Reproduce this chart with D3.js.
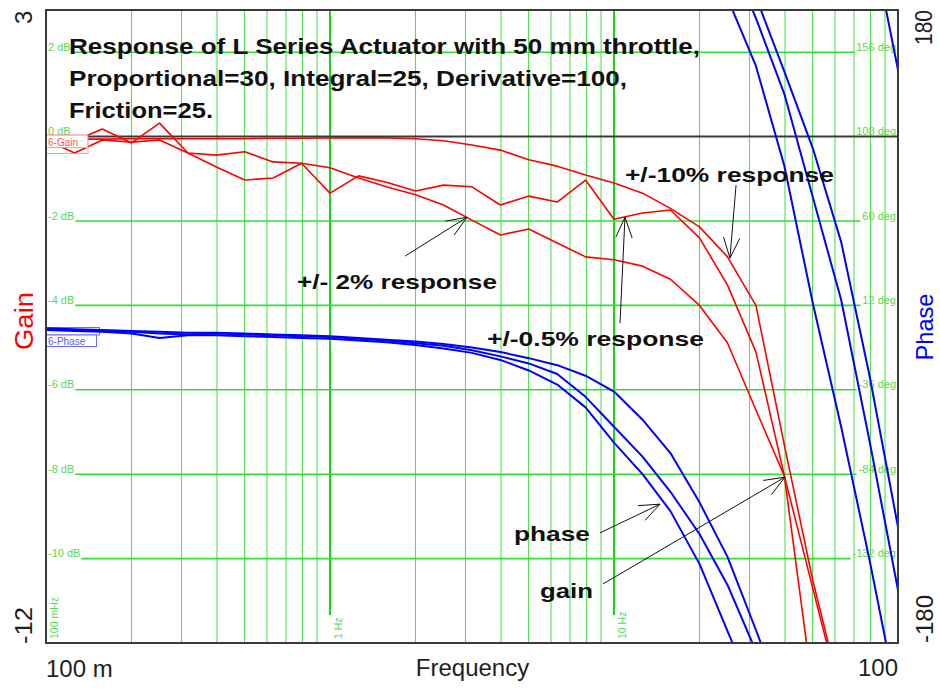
<!DOCTYPE html>
<html>
<head>
<meta charset="utf-8">
<script src="https://cdn.jsdelivr.net/npm/d3@7"></script>
<style>
  html, body { margin: 0; padding: 0; background: #fff; }
  svg { display: block; font-family: "Liberation Sans", Arial, Helvetica, sans-serif; }
</style>
</head>
<body>
<svg id="chart" width="940" height="690"></svg>
<script>
// Sample frequencies (Hz), ten per decade
const freqHz = [0.1, 0.126, 0.158, 0.2, 0.251, 0.316, 0.398, 0.501, 0.631, 0.794,
                1, 1.26, 1.58, 2, 2.51, 3.16, 3.98, 5.01, 6.31, 7.94,
                10, 12.6, 15.8, 20, 25.1, 31.6, 39.8, 50.1, 63.1, 79.4, 100];

// Gain (dB) for the three test runs
const gainTenPct = [-0.06, -0.06, -0.06, -0.05, -0.05, -0.05, -0.05, -0.05, -0.04, -0.04,
                    -0.03, -0.03, -0.03, -0.05, -0.10, -0.20, -0.32, -0.55, -0.70, -0.91,
                    -1.10, -1.34, -1.70, -2.14, -2.85, -4.00, -7.31, -10.51, -13.23];
const gainHalfPct = [-0.08, -0.10, 0.18, -0.15, 0.32, -0.39, -0.44, -0.36, -0.60, -0.63,
                     -1.34, -0.93, -1.08, -1.29, -1.15, -1.19, -1.62, -1.41, -1.55, -1.03,
                     -1.96, -1.81, -1.74, -2.40, -3.52, -5.10, -8.04, -13.11];
const gainTwoPct = [-0.08, -0.39, -0.08, -0.13, -0.08, -0.39, -0.72, -1.03, -0.98, -0.63,
                    -0.74, -0.98, -1.19, -1.38, -1.62, -1.98, -2.33, -2.19, -2.52, -2.85,
                    -2.92, -3.07, -3.38, -4.00, -4.89, -6.48, -8.04, -10.70, -13.35];

// Phase (degrees, unwrapped) for the same runs
const phaseTenPct = [-1, -1.5, -2, -2.5, -3, -3.5, -3.5, -4, -4.5, -5,
                     -5.5, -6.5, -7.5, -8.5, -10, -12, -14.5, -18, -22, -28,
                     -37, -53, -72, -100, -131, -172.6, -215, -258.5, -312, -388, -474];
const phaseHalfPct = [-1.5, -2, -2.5, -3, -4, -4.5, -4, -4.5, -5, -5.5,
                      -6, -7, -8, -9.5, -11, -13.5, -17, -21, -27, -40,
                      -57, -74, -94, -118, -147, -184.6, -227.8, -286.4, -344.9, -425.1, -509.9];
const phaseTwoPct = [-2, -2.5, -3, -4, -6.5, -5, -5, -5.5, -6, -6.5,
                     -7, -8, -9, -10.5, -12.5, -15, -19, -25, -33, -46,
                     -66, -84, -105, -135, -173.2, -211.8, -268.7, -346.6, -417.2, -492.8, -574.1];

// Grid / tick labels
const gainGrid = [2, 0, -2, -4, -6, -8, -10];
const gainGridLabels = ["2 dB", "0 dB", "-2 dB", "-4 dB", "-6 dB", "-8 dB", "-10 dB"];
const phaseGridLabels = ["156 deg", "108 deg", "60 deg", "12 deg", "-36 deg", "-84 deg", "-132 deg"];
const decadeHz = [0.1, 1, 10];
const decadeLabels = ["100 mHz", "1 Hz", "10 Hz"];
const gainEnds = ["3", "-12"];
const phaseEnds = ["180", "-180"];
const freqEnds = ["100 m", "100"];

const titleLines = ["Response of L Series Actuator with 50 mm throttle,",
                    "Proportional=30, Integral=25, Derivative=100,",
                    "Friction=25."];

// Callouts, anchored in (Hz, dB)
const callouts = [
  { text: "+/-10% response",  at: [10.93, -1.08], len: 209, from: [26.9, -1.15], to: [25.6, -2.88] },
  { text: "+/- 2% response",  at: [0.765, -3.61], len: 200, from: [1.84, -2.83], to: [3.04, -1.91] },
  { text: "+/-0.5% response", at: [3.57, -4.96],  len: 217, from: [10.5, -4.42], to: [10.93, -1.91] },
  { text: "phase",            at: [4.445, -9.58], len: 76,  from: [8.93, -9.39], to: [14.52, -8.71] },
  { text: "gain",             at: [5.49, -10.93], len: 53,  from: [9.15, -10.60], to: [40.0, -8.07] }
];

// ---------- layout ----------
const plot = { left: 46, right: 898, top: 10, bottom: 643 };
const x = d3.scaleLog().domain([0.1, 100]).range([plot.left, plot.right]);
const yGain = d3.scaleLinear().domain([-12, 3]).range([plot.bottom, plot.top]);
const yPhase = d3.scaleLinear().domain([-180, 180]).range([plot.bottom, plot.top]);

const GRID = "#2fe02f";
const GRID_MINOR = "#4fe34f";
const GRID_TEXT = "#55d855";
const INK = "#1e1e1e";

const svg = d3.select("#chart");
svg.append("rect").attr("width", 940).attr("height", 690).attr("fill", "#fff");

svg.append("defs").append("clipPath").attr("id", "plotClip")
  .append("rect")
  .attr("x", plot.left).attr("y", plot.top)
  .attr("width", plot.right - plot.left).attr("height", plot.bottom - plot.top);

const gridG = svg.append("g");

// vertical grid lines
const isDecade = f => Math.abs(Math.log10(f) - Math.round(Math.log10(f))) < 1e-9;
const vTicks = x.ticks().filter(f => f > 0.1 && f < 100);
gridG.selectAll("line.v").data(vTicks).join("line")
  .attr("x1", d => x(d)).attr("x2", d => x(d))
  .attr("y1", plot.top).attr("y2", plot.bottom)
  .attr("stroke", d => isDecade(d) ? "#14d814" : GRID_MINOR)
  .attr("stroke-width", d => isDecade(d) ? 2 : 1.1);

// decade labels along the bottom, rotated
decadeHz.forEach((f, i) => {
  const px = x(f);
  if (i > 0) {
    gridG.append("rect")
      .attr("x", px - 1.5).attr("y", 615).attr("width", 14.5).attr("height", plot.bottom - 615)
      .attr("fill", "#fff");
  }
  gridG.append("text")
    .attr("transform", `translate(${px + (i === 0 ? 12 : 11.5)},${plot.bottom - 4}) rotate(-90)`)
    .attr("font-size", 10.5).attr("fill", GRID_TEXT)
    .text(decadeLabels[i]);
});

// horizontal grid lines with their dB / deg labels
gainGrid.forEach((g, i) => {
  const py = yGain(g);
  const left = gridG.append("text")
    .attr("x", 48).attr("y", py - 1.5)
    .attr("font-size", 11).attr("fill", GRID_TEXT)
    .text(gainGridLabels[i]);
  const right = gridG.append("text")
    .attr("x", plot.right - 2).attr("y", py - 1.5)
    .attr("text-anchor", "end")
    .attr("font-size", 11).attr("fill", GRID_TEXT)
    .text(phaseGridLabels[i]);
  const lw = left.node().getComputedTextLength();
  const rw = right.node().getComputedTextLength();
  if (g === 0) {
    gridG.append("line")
      .attr("x1", plot.left).attr("x2", plot.right)
      .attr("y1", py).attr("y2", py)
      .attr("stroke", "#3a3a3a").attr("stroke-width", 2);
  } else {
    gridG.append("line")
      .attr("x1", 48 + lw + 1).attr("x2", plot.right - 2 - rw - 2)
      .attr("y1", py).attr("y2", py)
      .attr("stroke", GRID).attr("stroke-width", 1.6);
  }
});

// phase legend tag (sits under the curves)
const legPhase = svg.append("g");
legPhase.append("rect").attr("x", 46.5).attr("y", 327.5).attr("width", 53).attr("height", 7.5)
  .attr("fill", "#fff").attr("stroke", "#6a6aff").attr("stroke-width", 1);
legPhase.append("rect").attr("x", 46.5).attr("y", 335).attr("width", 50).attr("height", 11.5)
  .attr("fill", "#fff").attr("stroke", "#6a6aff").attr("stroke-width", 1);
legPhase.append("text").attr("x", 48).attr("y", 345)
  .attr("font-size", 10).attr("fill", "#5a5aff").text("6-Phase");

// ---------- curves ----------
const curveG = svg.append("g").attr("clip-path", "url(#plotClip)");
const pts = vals => vals.map((v, i) => [freqHz[i], v]);

const gainLine = d3.line().x(d => x(d[0])).y(d => yGain(d[1]));
// phase is shown wrapped to ±180, so each run is drawn at several 360° offsets
[phaseTenPct, phaseHalfPct, phaseTwoPct].forEach(series => {
  [0, 360, 720].forEach(off => {
    const line = d3.line().x(d => x(d[0])).y(d => yPhase(d[1] + off));
    curveG.append("path")
      .attr("d", line(pts(series)))
      .attr("fill", "none").attr("stroke", "#0000ff").attr("stroke-width", 2)
      .attr("stroke-linejoin", "round");
  });
});
[gainTenPct, gainHalfPct, gainTwoPct].forEach(series => {
  curveG.append("path")
    .attr("d", gainLine(pts(series)))
    .attr("fill", "none").attr("stroke", "#ff0000").attr("stroke-width", 1.6)
    .attr("stroke-linejoin", "round");
});

// gain legend tag (on top of the curves)
const legGain = svg.append("g");
legGain.append("rect").attr("x", 46.5).attr("y", 135).attr("width", 41.5).attr("height", 12.5)
  .attr("fill", "#fff").attr("stroke", "#ff7a7a").attr("stroke-width", 1);
legGain.append("rect").attr("x", 46.5).attr("y", 147.5).attr("width", 41.5).attr("height", 6)
  .attr("fill", "none").attr("stroke", "#ff9a9a").attr("stroke-width", 1);
legGain.append("text").attr("x", 48).attr("y", 145.5)
  .attr("font-size", 10).attr("fill", "#ff5050").text("6-Gain");

// plot frame
svg.append("rect")
  .attr("x", plot.left).attr("y", plot.top)
  .attr("width", plot.right - plot.left).attr("height", plot.bottom - plot.top)
  .attr("fill", "none").attr("stroke", "#3a3a3a").attr("stroke-width", 2);

// ---------- title block ----------
const titleLens = [631, 558, 144];
titleLines.forEach((t, i) => {
  svg.append("text")
    .attr("x", 69).attr("y", 54 + i * 32)
    .attr("font-size", 22).attr("font-weight", "bold").attr("fill", "#111")
    .attr("textLength", titleLens[i]).attr("lengthAdjust", "spacingAndGlyphs")
    .text(t);
});

// ---------- callouts ----------
const noteG = svg.append("g");
callouts.forEach(c => {
  noteG.append("text")
    .attr("x", x(c.at[0])).attr("y", yGain(c.at[1]))
    .attr("font-size", 21).attr("font-weight", "bold").attr("fill", "#111")
    .attr("textLength", c.len).attr("lengthAdjust", "spacingAndGlyphs")
    .text(c.text);
  const x0 = x(c.from[0]), y0 = yGain(c.from[1]);
  const x1 = x(c.to[0]), y1 = yGain(c.to[1]);
  noteG.append("line").attr("x1", x0).attr("y1", y0).attr("x2", x1).attr("y2", y1)
    .attr("stroke", "#111").attr("stroke-width", 1);
  const back = Math.atan2(y0 - y1, x0 - x1);
  [-0.38, 0.38].forEach(da => {
    noteG.append("line")
      .attr("x1", x1).attr("y1", y1)
      .attr("x2", x1 + 22 * Math.cos(back + da)).attr("y2", y1 + 22 * Math.sin(back + da))
      .attr("stroke", "#111").attr("stroke-width", 1);
  });
});

// ---------- outer axis labels ----------
const big = 24;
svg.append("text").attr("transform", "translate(32,24) rotate(-90)")
  .attr("font-size", big).attr("fill", INK).text(gainEnds[0]);
svg.append("text").attr("transform", `translate(32,${plot.bottom + 1}) rotate(-90)`)
  .attr("font-size", big).attr("fill", INK)
  .attr("textLength", 37).attr("lengthAdjust", "spacingAndGlyphs").text(gainEnds[1]);
svg.append("text").attr("transform", "translate(33,321) rotate(-90)")
  .attr("text-anchor", "middle").attr("font-size", 26).attr("fill", "#ff0000")
  .attr("textLength", 58).attr("lengthAdjust", "spacingAndGlyphs").text("Gain");

svg.append("text").attr("transform", `translate(932,${plot.top}) rotate(-90)`)
  .attr("text-anchor", "end").attr("font-size", big).attr("fill", INK)
  .attr("textLength", 35).attr("lengthAdjust", "spacingAndGlyphs").text(phaseEnds[0]);
svg.append("text").attr("transform", `translate(933,${plot.bottom}) rotate(-90)`)
  .attr("font-size", big).attr("fill", INK)
  .attr("textLength", 48).attr("lengthAdjust", "spacingAndGlyphs").text(phaseEnds[1]);
svg.append("text").attr("transform", "translate(933,327) rotate(-90)")
  .attr("text-anchor", "middle").attr("font-size", big).attr("fill", "#0000ff")
  .attr("textLength", 67).attr("lengthAdjust", "spacingAndGlyphs").text("Phase");

svg.append("text").attr("x", plot.left).attr("y", 677)
  .attr("font-size", big).attr("fill", INK).text(freqEnds[0]);
svg.append("text").attr("x", (plot.left + plot.right) / 2 + 0.5).attr("y", 676)
  .attr("text-anchor", "middle").attr("font-size", big).attr("fill", INK).text("Frequency");
svg.append("text").attr("x", plot.right).attr("y", 676)
  .attr("text-anchor", "end").attr("font-size", big).attr("fill", INK).text(freqEnds[1]);
</script>
</body>
</html>
